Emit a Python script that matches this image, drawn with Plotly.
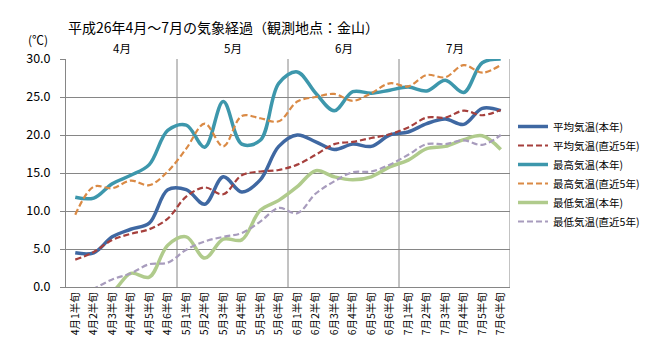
import plotly.graph_objects as go

months = ["4月", "5月", "6月", "7月"]
categories = [
    "4月1半旬", "4月2半旬", "4月3半旬", "4月4半旬", "4月5半旬", "4月6半旬",
    "5月1半旬", "5月2半旬", "5月3半旬", "5月4半旬", "5月5半旬", "5月6半旬",
    "6月1半旬", "6月2半旬", "6月3半旬", "6月4半旬", "6月5半旬", "6月6半旬",
    "7月1半旬", "7月2半旬", "7月3半旬", "7月4半旬", "7月5半旬", "7月6半旬",
]

avg_this = [4.5, 4.5, 6.6, 7.6, 8.4, 12.8, 12.8, 10.9, 14.5, 12.5, 14.1, 18.5,
            20.0, 19.1, 18.1, 18.8, 18.5, 20.0, 20.4, 21.5, 22.1, 21.4, 23.5, 23.2]
avg_5yr = [3.6, 4.6, 6.2, 7.0, 7.6, 9.0, 11.9, 13.1, 12.2, 14.7, 15.2, 15.4,
           16.1, 17.4, 18.8, 19.1, 19.6, 20.1, 21.0, 22.3, 22.3, 23.2, 22.6, 23.3]
max_this = [11.8, 11.7, 13.6, 14.7, 16.1, 20.6, 21.3, 18.4, 24.4, 18.8, 19.3, 26.8,
            28.3, 25.5, 23.2, 25.7, 25.5, 25.9, 26.3, 25.8, 27.2, 25.6, 29.5, 30.0]
max_5yr = [9.5, 13.2, 13.0, 14.0, 13.4, 15.2, 18.2, 21.5, 18.5, 22.5, 22.2, 21.8,
           24.4, 25.0, 25.4, 24.5, 25.5, 26.8, 26.4, 27.9, 27.6, 29.2, 28.2, 29.2]
min_this = [-1.5, -1.0, -0.6, 1.8, 1.3, 5.5, 6.6, 3.8, 6.3, 6.2, 10.1, 11.4,
            13.2, 15.3, 14.5, 14.1, 14.5, 15.8, 16.7, 18.2, 18.5, 19.4, 19.9, 18.1]
min_5yr = [-1.0, -0.2, 1.0, 1.8, 3.0, 3.2, 4.9, 6.0, 6.6, 7.1, 8.6, 10.4,
           9.7, 12.3, 13.9, 15.1, 15.2, 16.1, 17.4, 18.8, 18.8, 19.3, 18.7, 20.0]

series = [
    ("平均気温(本年)", avg_this, "#3F68A2", 3.5, "solid"),
    ("平均気温(直近5年)", avg_5yr, "#A6403D", 2.2, "6px,3px"),
    ("最高気温(本年)", max_this, "#3D97AC", 3.5, "solid"),
    ("最高気温(直近5年)", max_5yr, "#DA8A45", 2.2, "6px,3px"),
    ("最低気温(本年)", min_this, "#B0CB8C", 3.5, "solid"),
    ("最低気温(直近5年)", min_5yr, "#A89CBD", 2.2, "6px,3px"),
]

FONT = "Noto Sans CJK JP"
GRID = "#868686"
# the page body has a default 8px margin; the figure is sized to fit inside the window
W, H = 643, 348

fig = go.Figure()
for name, vals, color, w, dash in series:
    fig.add_trace(go.Scatter(
        x=categories, y=vals, name=name, mode="lines",
        line=dict(color=color, width=w, dash=dash, shape="spline", smoothing=1.0),
    ))

per_month = len(categories) // len(months)
shapes = []
for k in range(1, len(months) + 1):
    xv = k * per_month - 0.5
    shapes.append(dict(type="line", xref="x", yref="paper", x0=xv, x1=xv, y0=0, y1=1,
                       line=dict(color=GRID, width=1), layer="below"))

annotations = []
for k, m in enumerate(months):
    annotations.append(dict(text=m, xref="x", yref="paper", x=k * per_month + (per_month - 1) / 2,
                            y=1.048, showarrow=False, font=dict(family=FONT, size=11.5, color="#000"),
                            xanchor="center", yanchor="middle"))
annotations.append(dict(text="(℃)", xref="paper", yref="paper", x=-0.064, y=1.085,
                        showarrow=False, font=dict(family=FONT, size=12, color="#000"),
                        xanchor="center", yanchor="middle"))

fig.update_layout(
    width=W, height=H,
    margin=dict(l=58, r=141, t=51, b=69, autoexpand=False),
    paper_bgcolor="white", plot_bgcolor="white",
    title=dict(text="平成26年4月～7月の気象経過（観測地点：金山）", x=60 / W, xanchor="left",
               y=1 - 20 / H, yanchor="middle",
               font=dict(family=FONT, size=14, color="#000")),
    font=dict(family=FONT, color="#000"),
    showlegend=True,
    legend=dict(xref="container", yref="container", x=505 / W, y=1 - 104 / H,
                xanchor="left", yanchor="top",
                font=dict(family=FONT, size=10.5, color="#000"),
                bgcolor="rgba(0,0,0,0)", tracegroupgap=0),
    shapes=shapes,
    annotations=annotations,
    xaxis=dict(type="category", range=[-0.5, len(categories) - 0.5], showgrid=False,
               showline=True, linecolor=GRID, linewidth=1, tickangle=-90, automargin=False,
               tickfont=dict(family=FONT, size=10.5, color="#000"), ticks="", zeroline=False),
    yaxis=dict(range=[0, 30], dtick=5, tickformat=".1f", showgrid=True, gridcolor=GRID,
               gridwidth=1, showline=True, linecolor=GRID, linewidth=1, ticks="outside",
               ticklen=5, tickcolor=GRID, zeroline=False, automargin=False,
               ticklabelstandoff=7,
               tickfont=dict(family=FONT, size=12.5, color="#000")),
)

fig.write_html("out.html")
